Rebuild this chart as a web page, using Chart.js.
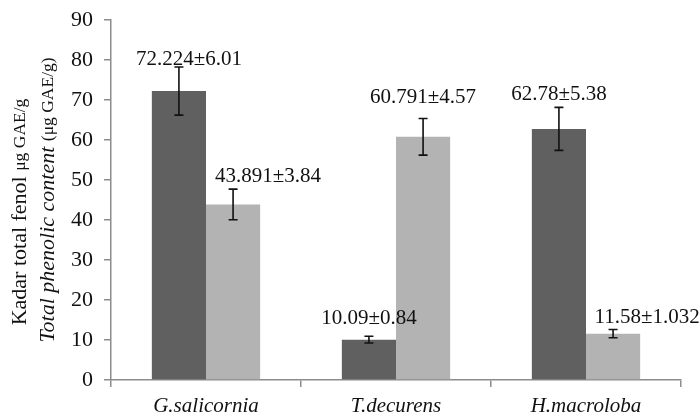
<!DOCTYPE html>
<html>
<head>
<meta charset="utf-8">
<script src="https://cdn.jsdelivr.net/npm/chart.js@4.4.1/dist/chart.umd.min.js"></script>
<style>
  html, body { margin: 0; padding: 0; background: #ffffff; }
  #wrap { width: 700px; height: 419px; position: relative; }
</style>
</head>
<body>
<div id="wrap"><canvas id="c" width="700" height="419"></canvas></div>
<script>
// ---- data ----
const categories = ['G.salicornia', 'T.decurens', 'H.macroloba'];
const seriesA = [72.224, 10.09, 62.78];
const errorsA = [6.01, 0.84, 5.38];
const seriesB = [43.891, 60.791, 11.58];
const errorsB = [3.84, 4.57, 1.032];
const yTicks = [0, 10, 20, 30, 40, 50, 60, 70, 80, 90];

const SERIF = '"Liberation Serif", "DejaVu Serif", serif';

// label nudges (text placement only): [dx, gap above error top]
const labelNudges = [
  [[10, 8], [0, 18], [0, 13]],
  [[35, 13], [0, 21], [34, 12]]
];

const errorBarPlugin = {
  id: 'errorBars',
  afterDatasetsDraw(chart) {
    const ctx = chart.ctx;
    const y = chart.scales.y;
    const errSets = [errorsA, errorsB];
    chart.data.datasets.forEach((ds, di) => {
      const meta = chart.getDatasetMeta(di);
      meta.data.forEach((bar, i) => {
        const v = ds.data[i], e = errSets[di][i];
        const top = y.getPixelForValue(v + e);
        const bot = y.getPixelForValue(v - e);
        ctx.save();
        ctx.strokeStyle = '#111';
        ctx.lineWidth = 1.6;
        ctx.beginPath();
        ctx.moveTo(bar.x, top); ctx.lineTo(bar.x, bot);
        ctx.moveTo(bar.x - 4.5, top); ctx.lineTo(bar.x + 4.5, top);
        ctx.moveTo(bar.x - 4.5, bot); ctx.lineTo(bar.x + 4.5, bot);
        ctx.stroke();
        const n = labelNudges[di][i];
        ctx.fillStyle = '#111';
        ctx.font = '21px ' + SERIF;
        ctx.textAlign = 'center';
        ctx.textBaseline = 'middle';
        ctx.fillText(String(v) + '±' + String(e), bar.x + n[0], top - n[1]);
        ctx.restore();
      });
    });
  }
};

const yTitlePlugin = {
  id: 'yTitle',
  afterDraw(chart) {
    const ctx = chart.ctx;
    const lines = [
      { x: 20, cy: 212, segs: [
        { t: 'Kadar total fenol ', f: '22px ' + SERIF },
        { t: 'μg GAE/g', f: '17.5px ' + SERIF } ] },
      { x: 48, cy: 200, segs: [
        { t: 'Total phenolic content ', f: 'italic 22px ' + SERIF },
        { t: '(μg GAE/g)', f: '17.5px ' + SERIF } ] }
    ];
    ctx.save();
    ctx.fillStyle = '#111';
    lines.forEach(l => {
      let w = 0;
      l.segs.forEach(s => { ctx.font = s.f; s.w = ctx.measureText(s.t).width; w += s.w; });
      ctx.save();
      ctx.translate(l.x, l.cy);
      ctx.rotate(-Math.PI / 2);
      ctx.textBaseline = 'middle';
      ctx.textAlign = 'left';
      let px = -w / 2;
      l.segs.forEach(s => { ctx.font = s.f; ctx.fillText(s.t, px, 0); px += s.w; });
      ctx.restore();
    });
    ctx.restore();
  }
};

new Chart(document.getElementById('c'), {
  type: 'bar',
  data: {
    labels: categories,
    datasets: [
      { label: 'A', data: seriesA, backgroundColor: '#606060', borderWidth: 0,
        categoryPercentage: 0.57, barPercentage: 1.0 },
      { label: 'B', data: seriesB, backgroundColor: '#b3b3b3', borderWidth: 0,
        categoryPercentage: 0.57, barPercentage: 1.0 }
    ]
  },
  options: {
    responsive: false,
    animation: false,
    layout: { padding: { left: 0, right: 19, top: 20, bottom: 0 } },
    plugins: { legend: { display: false }, tooltip: { enabled: false } },
    scales: {
      x: {
        offset: true,
        grid: { display: true, offset: true, drawOnChartArea: false, tickLength: 7, color: '#8c8c8c', lineWidth: 1.5 },
        border: { display: true, color: '#8c8c8c', width: 1.5 },
        ticks: { color: '#111', font: { family: SERIF, size: 21, style: 'italic' }, padding: 7 },
        afterFit(s) { s.height = 39; s.paddingLeft = 0; s.paddingRight = 0; }
      },
      y: {
        min: 0, max: 90,
        afterBuildTicks(s) { s.ticks = yTicks.map(v => ({ value: v })); },
        grid: { display: true, drawOnChartArea: false, tickLength: 7, color: '#8c8c8c', lineWidth: 1.5 },
        border: { display: true, color: '#8c8c8c', width: 1.5 },
        ticks: { color: '#111', font: { family: SERIF, size: 22 }, padding: 11 },
        afterFit(s) { s.width = 111; s.paddingTop = 0; s.paddingBottom = 0; }
      }
    }
  },
  plugins: [errorBarPlugin, yTitlePlugin]
});
</script>
</body>
</html>
